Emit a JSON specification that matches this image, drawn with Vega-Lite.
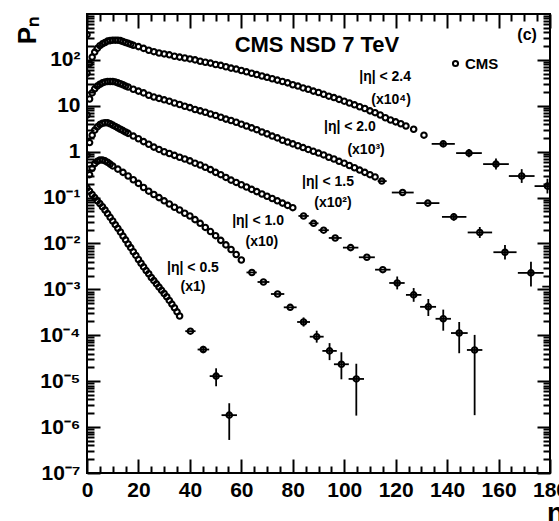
{
  "$schema": "https://vega.github.io/schema/vega-lite/v6.json",
  "width": 463,
  "height": 459,
  "autosize": {"type": "none"},
  "padding": {"left": 87, "top": 14, "right": 9, "bottom": 48},
  "background": "white",
  "config": {
    "view": {"stroke": "black", "strokeWidth": 2},
    "font": "Liberation Sans",
    "axis": {
      "domain": false, "grid": false,
      "labelFont": "Liberation Sans", "labelFontWeight": "bold", "labelFontSize": 21, "labelColor": "black",
      "labelFlush": false, "labelOverlap": false, "labelBound": false,
      "tickColor": "black", "tickWidth": 2,
      "titleColor": "black", "titleFont": "Liberation Sans", "titleFontWeight": "bold"
    }
  },
  "datasets": {
    "pn": [
      {"s":"2.4","n":0,"p":355},{"s":"2.4","n":1,"p":83.2},{"s":"2.4","n":2,"p":115},{"s":"2.4","n":3,"p":148},{"s":"2.4","n":4,"p":178},{"s":"2.4","n":5,"p":204},{"s":"2.4","n":6,"p":224},{"s":"2.4","n":7,"p":240},{"s":"2.4","n":8,"p":257},{"s":"2.4","n":9,"p":263},{"s":"2.4","n":10,"p":269},{"s":"2.4","n":11,"p":269},{"s":"2.4","n":12,"p":269},{"s":"2.4","n":13,"p":263},{"s":"2.4","n":14,"p":251},{"s":"2.4","n":15,"p":240},{"s":"2.4","n":16,"p":229},{"s":"2.4","n":17,"p":219},{"s":"2.4","n":18,"p":209},{"s":"2.4","n":20,"p":195},{"s":"2.4","n":22,"p":178},{"s":"2.4","n":24,"p":162},{"s":"2.4","n":26,"p":151},{"s":"2.4","n":28,"p":141},{"s":"2.4","n":30,"p":135},{"s":"2.4","n":32,"p":129},{"s":"2.4","n":34,"p":120},{"s":"2.4","n":36,"p":115},{"s":"2.4","n":38,"p":110},{"s":"2.4","n":40,"p":105},{"s":"2.4","n":42,"p":100},{"s":"2.4","n":44,"p":93.3},{"s":"2.4","n":46,"p":89.1},{"s":"2.4","n":48,"p":85.1},{"s":"2.4","n":50,"p":79.4},{"s":"2.4","n":52,"p":75.9},{"s":"2.4","n":54,"p":70.8},{"s":"2.4","n":56,"p":66.1},{"s":"2.4","n":58,"p":63.1},{"s":"2.4","n":60,"p":58.9},{"s":"2.4","n":62,"p":55.0},{"s":"2.4","n":64,"p":51.3},{"s":"2.4","n":66,"p":47.9},{"s":"2.4","n":68,"p":44.7},{"s":"2.4","n":70,"p":41.7},{"s":"2.4","n":72,"p":38.9},{"s":"2.4","n":74,"p":36.3},{"s":"2.4","n":76,"p":33.9},{"s":"2.4","n":78,"p":31.6},{"s":"2.4","n":80,"p":28.8},{"s":"2.4","n":82,"p":26.9},{"s":"2.4","n":84,"p":24.5},{"s":"2.4","n":86,"p":22.9},{"s":"2.4","n":88,"p":20.9},{"s":"2.4","n":90,"p":19.5},{"s":"2.4","n":92,"p":17.8},{"s":"2.4","n":94,"p":16.2},{"s":"2.4","n":96,"p":15.1},{"s":"2.4","n":98,"p":13.8},{"s":"2.4","n":100,"p":12.6},{"s":"2.4","n":102,"p":11.5},{"s":"2.4","n":104,"p":10.5},{"s":"2.4","n":106,"p":9.55},{"s":"2.4","n":108,"p":8.71},{"s":"2.4","n":110,"p":7.76},{"s":"2.4","n":112,"p":7.08},{"s":"2.4","n":114,"p":6.31},{"s":"2.4","n":116,"p":5.50},{"s":"2.4","n":118,"p":4.90},{"s":"2.4","n":120,"p":4.47},{"s":"2.4","n":122,"p":4.07},{"s":"2.4","n":124,"p":3.63},{"s":"2.4","n":127,"p":3.09},{"s":"2.4","n":131,"p":2.29},
      {"s":"2.4","n":138.5,"p":1.48,"xl":134,"xh":143,"yl":1.29,"yh":1.70},
      {"s":"2.4","n":148.5,"p":0.933,"xl":143.5,"xh":153.5,"yl":0.759,"yh":1.15},
      {"s":"2.4","n":159,"p":0.537,"xl":154,"xh":164,"yl":0.407,"yh":0.708},
      {"s":"2.4","n":169,"p":0.295,"xl":164,"xh":174,"yl":0.209,"yh":0.417},
      {"s":"2.4","n":179,"p":0.178,"xl":174,"xh":184,"yl":0.123,"yh":0.257},

      {"s":"2.0","n":0,"p":51.3},{"s":"2.0","n":1,"p":14.1},{"s":"2.0","n":2,"p":19.1},{"s":"2.0","n":3,"p":23.4},{"s":"2.0","n":4,"p":26.9},{"s":"2.0","n":5,"p":29.5},{"s":"2.0","n":6,"p":31.6},{"s":"2.0","n":7,"p":33.1},{"s":"2.0","n":8,"p":33.9},{"s":"2.0","n":9,"p":33.9},{"s":"2.0","n":10,"p":33.9},{"s":"2.0","n":11,"p":33.1},{"s":"2.0","n":12,"p":31.6},{"s":"2.0","n":13,"p":30.2},{"s":"2.0","n":14,"p":28.8},{"s":"2.0","n":15,"p":26.9},{"s":"2.0","n":16,"p":25.7},{"s":"2.0","n":18,"p":22.9},{"s":"2.0","n":20,"p":20.9},{"s":"2.0","n":22,"p":19.1},{"s":"2.0","n":24,"p":17.0},{"s":"2.0","n":26,"p":15.5},{"s":"2.0","n":28,"p":14.5},{"s":"2.0","n":30,"p":13.5},{"s":"2.0","n":32,"p":12.6},{"s":"2.0","n":34,"p":11.5},{"s":"2.0","n":36,"p":10.7},{"s":"2.0","n":38,"p":9.77},{"s":"2.0","n":40,"p":9.12},{"s":"2.0","n":42,"p":8.32},{"s":"2.0","n":44,"p":7.76},{"s":"2.0","n":46,"p":7.24},{"s":"2.0","n":48,"p":6.61},{"s":"2.0","n":50,"p":6.17},{"s":"2.0","n":52,"p":5.62},{"s":"2.0","n":54,"p":5.13},{"s":"2.0","n":56,"p":4.79},{"s":"2.0","n":58,"p":4.37},{"s":"2.0","n":60,"p":3.98},{"s":"2.0","n":62,"p":3.63},{"s":"2.0","n":64,"p":3.31},{"s":"2.0","n":66,"p":3.02},{"s":"2.0","n":68,"p":2.69},{"s":"2.0","n":70,"p":2.45},{"s":"2.0","n":72,"p":2.19},{"s":"2.0","n":74,"p":2.00},{"s":"2.0","n":76,"p":1.78},{"s":"2.0","n":78,"p":1.62},{"s":"2.0","n":80,"p":1.48},{"s":"2.0","n":82,"p":1.35},{"s":"2.0","n":84,"p":1.23},{"s":"2.0","n":86,"p":1.12},{"s":"2.0","n":88,"p":1.02},{"s":"2.0","n":90,"p":0.933},{"s":"2.0","n":92,"p":0.851},{"s":"2.0","n":94,"p":0.759},{"s":"2.0","n":96,"p":0.692},{"s":"2.0","n":98,"p":0.617},{"s":"2.0","n":100,"p":0.562},{"s":"2.0","n":102,"p":0.501},{"s":"2.0","n":104,"p":0.447},{"s":"2.0","n":106,"p":0.398},{"s":"2.0","n":108,"p":0.355},{"s":"2.0","n":110,"p":0.316},{"s":"2.0","n":112,"p":0.282},
      {"s":"2.0","n":114.6,"p":0.229,"xl":113,"xh":116.5},
      {"s":"2.0","n":122.7,"p":0.129,"xl":118.5,"xh":127},
      {"s":"2.0","n":132.5,"p":0.0759,"xl":128,"xh":137},
      {"s":"2.0","n":142.6,"p":0.0380,"xl":138,"xh":147.5,"yl":0.0316,"yh":0.0457},
      {"s":"2.0","n":152.7,"p":0.0174,"xl":148,"xh":157.5,"yl":0.0132,"yh":0.0229},
      {"s":"2.0","n":162.5,"p":0.00646,"xl":158,"xh":167,"yl":0.00447,"yh":0.00933},
      {"s":"2.0","n":172.6,"p":0.00229,"xl":167.5,"xh":177.5,"yl":0.00115,"yh":0.00398},
      {"s":"2.0","n":181.7,"p":0.00115,"xl":177,"xh":186,"yl":0.000575,"yh":0.00209},

      {"s":"1.5","n":0,"p":6.31},{"s":"1.5","n":1,"p":1.58},{"s":"1.5","n":2,"p":2.29},{"s":"1.5","n":3,"p":2.95},{"s":"1.5","n":4,"p":3.47},{"s":"1.5","n":5,"p":3.89},{"s":"1.5","n":6,"p":4.17},{"s":"1.5","n":7,"p":4.27},{"s":"1.5","n":8,"p":4.27},{"s":"1.5","n":9,"p":4.07},{"s":"1.5","n":10,"p":3.80},{"s":"1.5","n":11,"p":3.55},{"s":"1.5","n":12,"p":3.31},{"s":"1.5","n":13,"p":3.09},{"s":"1.5","n":14,"p":2.88},{"s":"1.5","n":15,"p":2.69},{"s":"1.5","n":16,"p":2.51},{"s":"1.5","n":18,"p":2.19},{"s":"1.5","n":20,"p":1.91},{"s":"1.5","n":22,"p":1.66},{"s":"1.5","n":24,"p":1.45},{"s":"1.5","n":26,"p":1.26},{"s":"1.5","n":28,"p":1.12},{"s":"1.5","n":30,"p":1.00},{"s":"1.5","n":32,"p":0.912},{"s":"1.5","n":34,"p":0.832},{"s":"1.5","n":36,"p":0.759},{"s":"1.5","n":38,"p":0.692},{"s":"1.5","n":40,"p":0.631},{"s":"1.5","n":42,"p":0.562},{"s":"1.5","n":44,"p":0.513},{"s":"1.5","n":46,"p":0.457},{"s":"1.5","n":48,"p":0.407},{"s":"1.5","n":50,"p":0.355},{"s":"1.5","n":52,"p":0.316},{"s":"1.5","n":54,"p":0.275},{"s":"1.5","n":56,"p":0.240},{"s":"1.5","n":58,"p":0.214},{"s":"1.5","n":60,"p":0.191},{"s":"1.5","n":62,"p":0.170},{"s":"1.5","n":64,"p":0.151},{"s":"1.5","n":66,"p":0.135},{"s":"1.5","n":68,"p":0.120},{"s":"1.5","n":70,"p":0.107},{"s":"1.5","n":72,"p":0.0955},{"s":"1.5","n":74,"p":0.0851},{"s":"1.5","n":76,"p":0.0759},{"s":"1.5","n":78,"p":0.0676},{"s":"1.5","n":80,"p":0.0603},
      {"s":"1.5","n":84.2,"p":0.0398,"xl":82.2,"xh":86.2},
      {"s":"1.5","n":88.1,"p":0.0275,"xl":86.2,"xh":90},
      {"s":"1.5","n":92,"p":0.0195,"xl":90,"xh":94},
      {"s":"1.5","n":96.5,"p":0.0132,"xl":94,"xh":99},
      {"s":"1.5","n":102.5,"p":0.00813,"xl":99.5,"xh":105.5},
      {"s":"1.5","n":108.8,"p":0.00501,"xl":105.7,"xh":111.9},
      {"s":"1.5","n":115,"p":0.00269,"xl":112,"xh":118},
      {"s":"1.5","n":120.6,"p":0.00138,"xl":117.5,"xh":123.5,"yl":0.001,"yh":0.00191},
      {"s":"1.5","n":127,"p":0.000759,"xl":124,"xh":130,"yl":0.000537,"yh":0.00107},
      {"s":"1.5","n":132.7,"p":0.000417,"xl":129.5,"xh":135.7,"yl":0.000263,"yh":0.000617},
      {"s":"1.5","n":138.5,"p":0.000229,"xl":135.5,"xh":141.5,"yl":0.000126,"yh":0.000363},
      {"s":"1.5","n":144.7,"p":0.000112,"xl":141.5,"xh":148,"yl":0.0000407,"yh":0.000195},
      {"s":"1.5","n":150.7,"p":0.0000479,"xl":147.7,"xh":153.7,"yl":0.00000182,"yh":0.000102},

      {"s":"1.0","n":0,"p":0.851},{"s":"1.0","n":1,"p":0.316},{"s":"1.0","n":2,"p":0.437},{"s":"1.0","n":3,"p":0.550},{"s":"1.0","n":4,"p":0.617},{"s":"1.0","n":5,"p":0.661},{"s":"1.0","n":6,"p":0.661},{"s":"1.0","n":7,"p":0.631},{"s":"1.0","n":8,"p":0.589},{"s":"1.0","n":9,"p":0.537},{"s":"1.0","n":10,"p":0.490},{"s":"1.0","n":12,"p":0.417},{"s":"1.0","n":14,"p":0.355},{"s":"1.0","n":16,"p":0.295},{"s":"1.0","n":18,"p":0.245},{"s":"1.0","n":20,"p":0.204},{"s":"1.0","n":22,"p":0.166},{"s":"1.0","n":24,"p":0.138},{"s":"1.0","n":26,"p":0.117},{"s":"1.0","n":28,"p":0.100},{"s":"1.0","n":30,"p":0.0851},{"s":"1.0","n":32,"p":0.0724},{"s":"1.0","n":34,"p":0.0617},{"s":"1.0","n":36,"p":0.0537},{"s":"1.0","n":38,"p":0.0457},{"s":"1.0","n":40,"p":0.0398},{"s":"1.0","n":42,"p":0.0331},{"s":"1.0","n":44,"p":0.0275},{"s":"1.0","n":46,"p":0.0224},{"s":"1.0","n":48,"p":0.0182},{"s":"1.0","n":50,"p":0.0148},{"s":"1.0","n":52,"p":0.0117},{"s":"1.0","n":54,"p":0.00933},{"s":"1.0","n":56,"p":0.00741},{"s":"1.0","n":58,"p":0.00575},{"s":"1.0","n":60,"p":0.00437},
      {"s":"1.0","n":64.1,"p":0.00234,"xl":62,"xh":66},
      {"s":"1.0","n":68.6,"p":0.00145,"xl":66.3,"xh":70.9},
      {"s":"1.0","n":74.1,"p":0.000794,"xl":71.5,"xh":76.7},
      {"s":"1.0","n":79,"p":0.000407,"xl":76.5,"xh":81.5},
      {"s":"1.0","n":84.2,"p":0.000195,"xl":81.7,"xh":86.7,"yl":0.000155,"yh":0.000245},
      {"s":"1.0","n":89.3,"p":0.0000933,"xl":86.6,"xh":92,"yl":0.0000692,"yh":0.000126},
      {"s":"1.0","n":94.3,"p":0.0000457,"xl":91.5,"xh":97.1,"yl":0.0000288,"yh":0.0000676},
      {"s":"1.0","n":98.9,"p":0.0000234,"xl":96,"xh":101.8,"yl":0.000011,"yh":0.0000427},
      {"s":"1.0","n":104.7,"p":0.0000112,"xl":101.7,"xh":107.7,"yl":0.00000178,"yh":0.000024},

      {"s":"0.5","n":0,"p":0.162},{"s":"0.5","n":1,"p":0.138},{"s":"0.5","n":2,"p":0.117},{"s":"0.5","n":3,"p":0.100},{"s":"0.5","n":4,"p":0.0851},{"s":"0.5","n":5,"p":0.0741},{"s":"0.5","n":6,"p":0.0631},{"s":"0.5","n":7,"p":0.0537},{"s":"0.5","n":8,"p":0.0447},{"s":"0.5","n":9,"p":0.0372},{"s":"0.5","n":10,"p":0.0309},{"s":"0.5","n":11,"p":0.0257},{"s":"0.5","n":12,"p":0.0214},{"s":"0.5","n":13,"p":0.0178},{"s":"0.5","n":14,"p":0.0145},{"s":"0.5","n":15,"p":0.0120},{"s":"0.5","n":16,"p":0.00977},{"s":"0.5","n":17,"p":0.00813},{"s":"0.5","n":18,"p":0.00661},{"s":"0.5","n":19,"p":0.0055},{"s":"0.5","n":20,"p":0.00447},{"s":"0.5","n":21,"p":0.00372},{"s":"0.5","n":22,"p":0.00309},{"s":"0.5","n":23,"p":0.00257},{"s":"0.5","n":24,"p":0.00219},{"s":"0.5","n":25,"p":0.00182},{"s":"0.5","n":26,"p":0.00155},{"s":"0.5","n":27,"p":0.00132},{"s":"0.5","n":28,"p":0.00112},{"s":"0.5","n":29,"p":0.000955},{"s":"0.5","n":30,"p":0.000813},{"s":"0.5","n":31,"p":0.000692},{"s":"0.5","n":32,"p":0.000575},{"s":"0.5","n":33,"p":0.000479},{"s":"0.5","n":34,"p":0.000398},{"s":"0.5","n":35,"p":0.000324},{"s":"0.5","n":36,"p":0.000263},
      {"s":"0.5","n":40.2,"p":0.000123,"xl":38.2,"xh":42.2},
      {"s":"0.5","n":45.2,"p":0.000049,"xl":43,"xh":47.5,"yl":0.0000407,"yh":0.0000589},
      {"s":"0.5","n":50.2,"p":0.0000129,"xl":47.7,"xh":52.7,"yl":0.00000776,"yh":0.0000191},
      {"s":"0.5","n":55.3,"p":0.00000182,"xl":52.3,"xh":58.3,"yl":0.000000525,"yh":0.00000331}
    ],
    "heading": [{"n": 89.4, "p": 211, "t": "CMS NSD 7 TeV"}],
    "panel": [{"n": 171.1, "p": 349, "t": "(c)"}],
    "tags": [
      {"n": 115.9, "p": 42.4, "t": "|η| < 2.4"},
      {"n": 118.2, "p": 13.4, "t": "(x10⁴)"},
      {"n": 102.2, "p": 3.45, "t": "|η| < 2.0"},
      {"n": 108.5, "p": 1.09, "t": "(x10³)"},
      {"n": 93.7, "p": 0.219, "t": "|η| < 1.5"},
      {"n": 95.6, "p": 0.0762, "t": "(x10²)"},
      {"n": 66.5, "p": 0.0309, "t": "|η| < 1.0"},
      {"n": 68.0, "p": 0.0108, "t": "(x10)"},
      {"n": 41.2, "p": 0.00292, "t": "|η| < 0.5"},
      {"n": 41.2, "p": 0.00113, "t": "(x1)"}
    ]
  },
  "resolve": {"axis": {"x": "independent", "y": "independent"}},
  "layer": [
    {
      "data": {"name": "pn"},
      "transform": [{"filter": "isValid(datum.xl)"}],
      "mark": {"type": "rule", "color": "black", "strokeWidth": 1.8, "clip": true},
      "encoding": {
        "x": {"field": "xl", "type": "quantitative",
          "scale": {"type": "linear", "domain": [0, 180], "nice": false, "zero": false},
          "axis": {"orient": "bottom", "values": [0, 20, 40, 60, 80, 100, 120, 140, 160, 180], "tickSize": -14, "labelPadding": 20,
            "title": "n", "titleFontSize": 28, "titleX": 468, "titleY": 40, "titleAlign": "center", "titleBaseline": "middle"}},
        "x2": {"field": "xh"},
        "y": {"field": "p", "type": "quantitative",
          "scale": {"type": "log", "domain": [1e-7, 1000], "nice": false},
          "axis": {"orient": "left", "values": [1e-7, 1e-6, 1e-5, 1e-4, 1e-3, 0.01, 0.1, 1, 10, 100], "tickSize": -13, "labelPadding": 20,
            "labelExpr": "datum.value > 50 ? '10²' : datum.value > 5 ? '10' : datum.value > 0.5 ? '1' : datum.value > 0.05 ? '10⁻¹' : datum.value > 0.005 ? '10⁻²' : datum.value > 0.0005 ? '10⁻³' : datum.value > 0.00005 ? '10⁻⁴' : datum.value > 0.000005 ? '10⁻⁵' : datum.value > 0.0000005 ? '10⁻⁶' : '10⁻⁷'",
            "title": "Pₙ", "titleFontSize": 26, "titleAngle": 270, "titleX": -60, "titleY": 16, "titleAlign": "center", "titleBaseline": "middle"}}
      }
    },
    {
      "data": {"name": "pn"},
      "transform": [{"filter": "isValid(datum.yl)"}],
      "mark": {"type": "rule", "color": "black", "strokeWidth": 1.8, "clip": true},
      "encoding": {
        "x": {"field": "n", "type": "quantitative",
          "scale": {"type": "linear", "domain": [0, 180], "nice": false, "zero": false},
          "axis": {"orient": "bottom", "values": [5, 10, 15, 25, 30, 35, 45, 50, 55, 65, 70, 75, 85, 90, 95, 105, 110, 115, 125, 130, 135, 145, 150, 155, 165, 170, 175], "tickSize": -7, "labels": false, "title": null}},
        "y": {"field": "yl", "type": "quantitative",
          "scale": {"type": "log", "domain": [1e-7, 1000], "nice": false},
          "axis": {"orient": "left", "tickSize": -7, "labels": false, "title": null,
            "values": [2e-7,3e-7,4e-7,5e-7,6e-7,7e-7,8e-7,9e-7,2e-6,3e-6,4e-6,5e-6,6e-6,7e-6,8e-6,9e-6,2e-5,3e-5,4e-5,5e-5,6e-5,7e-5,8e-5,9e-5,2e-4,3e-4,4e-4,5e-4,6e-4,7e-4,8e-4,9e-4,0.002,0.003,0.004,0.005,0.006,0.007,0.008,0.009,0.02,0.03,0.04,0.05,0.06,0.07,0.08,0.09,0.2,0.3,0.4,0.5,0.6,0.7,0.8,0.9,2,3,4,5,6,7,8,9,20,30,40,50,60,70,80,90,200,300,400,500,600,700,800,900]}},
        "y2": {"field": "yh"}
      }
    },
    {
      "data": {"name": "pn"},
      "mark": {"type": "point", "shape": "circle", "filled": false, "color": "black", "strokeWidth": 2.1, "size": 30, "opacity": 1, "clip": true},
      "encoding": {
        "x": {"field": "n", "type": "quantitative",
          "scale": {"type": "linear", "domain": [0, 180], "nice": false, "zero": false},
          "axis": {"orient": "top", "values": [0, 20, 40, 60, 80, 100, 120, 140, 160, 180], "tickSize": -14, "labels": false, "title": null}},
        "y": {"field": "p", "type": "quantitative",
          "scale": {"type": "log", "domain": [1e-7, 1000], "nice": false},
          "axis": {"orient": "right", "values": [1e-7, 1e-6, 1e-5, 1e-4, 1e-3, 0.01, 0.1, 1, 10, 100], "tickSize": -13, "labels": false, "title": null}},
        "shape": {"datum": "CMS", "type": "nominal", "scale": {"range": ["circle"]},
          "legend": {"orient": "none", "legendX": 361, "legendY": 42, "title": null, "padding": 0,
            "labelFont": "Liberation Sans", "labelFontWeight": "bold", "labelFontSize": 15, "labelColor": "black", "labelOffset": 2,
            "symbolSize": 26, "symbolStrokeColor": "black", "symbolStrokeWidth": 2, "symbolFillColor": "transparent", "symbolType": "circle"}}
      }
    },
    {
      "data": {"name": "heading"},
      "mark": {"type": "text", "font": "Liberation Sans", "fontWeight": "bold", "fontSize": 22, "align": "center", "baseline": "middle", "color": "black"},
      "encoding": {
        "x": {"field": "n", "type": "quantitative",
          "scale": {"type": "linear", "domain": [0, 180], "nice": false, "zero": false},
          "axis": {"orient": "top", "values": [5, 10, 15, 25, 30, 35, 45, 50, 55, 65, 70, 75, 85, 90, 95, 105, 110, 115, 125, 130, 135, 145, 150, 155, 165, 170, 175], "tickSize": -7, "labels": false, "title": null}},
        "y": {"field": "p", "type": "quantitative",
          "scale": {"type": "log", "domain": [1e-7, 1000], "nice": false},
          "axis": {"orient": "right", "tickSize": -7, "labels": false, "title": null,
            "values": [2e-7,3e-7,4e-7,5e-7,6e-7,7e-7,8e-7,9e-7,2e-6,3e-6,4e-6,5e-6,6e-6,7e-6,8e-6,9e-6,2e-5,3e-5,4e-5,5e-5,6e-5,7e-5,8e-5,9e-5,2e-4,3e-4,4e-4,5e-4,6e-4,7e-4,8e-4,9e-4,0.002,0.003,0.004,0.005,0.006,0.007,0.008,0.009,0.02,0.03,0.04,0.05,0.06,0.07,0.08,0.09,0.2,0.3,0.4,0.5,0.6,0.7,0.8,0.9,2,3,4,5,6,7,8,9,20,30,40,50,60,70,80,90,200,300,400,500,600,700,800,900]}},
        "text": {"field": "t"}
      }
    },
    {
      "data": {"name": "panel"},
      "mark": {"type": "text", "font": "Liberation Sans", "fontWeight": "bold", "fontSize": 16, "align": "center", "baseline": "middle", "color": "black"},
      "encoding": {
        "x": {"field": "n", "type": "quantitative", "scale": {"type": "linear", "domain": [0, 180], "nice": false, "zero": false}, "axis": null},
        "y": {"field": "p", "type": "quantitative", "scale": {"type": "log", "domain": [1e-7, 1000], "nice": false}, "axis": null},
        "text": {"field": "t"}
      }
    },
    {
      "data": {"name": "tags"},
      "mark": {"type": "text", "font": "Liberation Sans", "fontWeight": "bold", "fontSize": 14, "align": "center", "baseline": "middle", "color": "black"},
      "encoding": {
        "x": {"field": "n", "type": "quantitative", "scale": {"type": "linear", "domain": [0, 180], "nice": false, "zero": false}, "axis": null},
        "y": {"field": "p", "type": "quantitative", "scale": {"type": "log", "domain": [1e-7, 1000], "nice": false}, "axis": null},
        "text": {"field": "t"}
      }
    }
  ]
}
